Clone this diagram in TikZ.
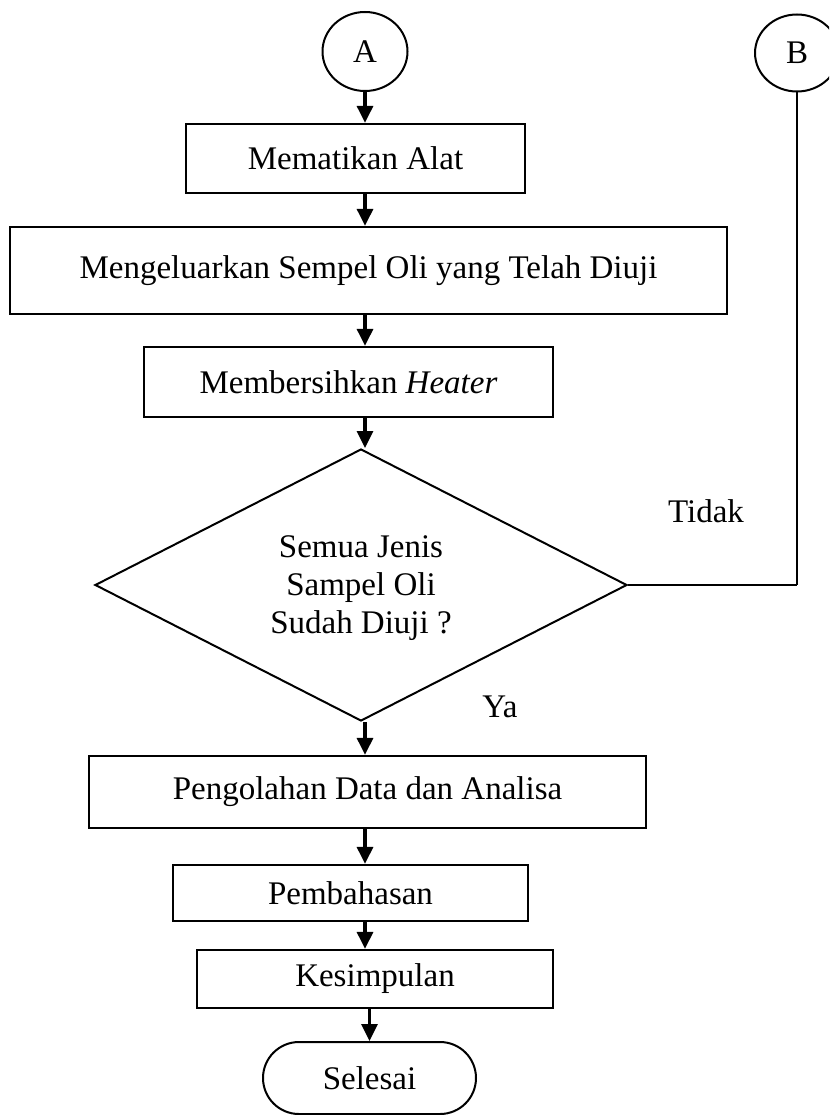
\documentclass[tikz,border=0pt]{standalone}
\usepackage{fontspec}
\setmainfont{Liberation Serif}
\usetikzlibrary{arrows.meta,shapes.geometric,shapes.misc}
\newcommand\myfs{\fontsize{33}{38}\selectfont}
\begin{document}
\begin{tikzpicture}[x=1pt,y=-1pt,
  box/.style={draw, line width=2.3pt, inner sep=0pt, font=\myfs},
  conn/.style={draw, line width=2pt, inner sep=0pt, font=\myfs},
  arr/.style={line width=3.2pt, -{Triangle[length=17pt,width=16pt]}},
  link/.style={line width=1.3pt},
  linkv/.style={line width=2.3pt},
  lbl/.style={inner sep=0pt, font=\myfs}]
\useasboundingbox (0,0) rectangle (829,1115);
\clip (0,0) rectangle (829,1115);
% connectors (circles)
\node[conn, ellipse, minimum width=85pt, minimum height=79pt] (A) at (365,51.5) {A};
\node[conn, ellipse, minimum width=84pt, minimum height=77pt] (B) at (797,53) {B};
% process boxes
\node[box, minimum width=339pt, minimum height=69pt] (mat) at (355.5,158.5) {Mematikan Alat};
\node[box, minimum width=717pt, minimum height=87pt] (meng) at (368.5,270.5) {Mengeluarkan Sempel Oli yang Telah Diuji};
\node[box, minimum width=409pt, minimum height=70pt] (memb) at (348.5,382) {Membersihkan \textit{Heater}};
% decision
\node[draw, line width=2pt, diamond, aspect=1.956, minimum width=532pt, minimum height=272pt, inner sep=0pt] (dec) at (361,585) {};
\node[lbl, align=center] (dectext) at (361,588) {Semua Jenis\\Sampel Oli\\Sudah Diuji ?};
% lower boxes
\node[box, minimum width=557pt, minimum height=72pt] (peng) at (367.5,792) {Pengolahan Data dan Analisa};
\node[box, minimum width=355pt, minimum height=56pt] (pem) at (350.5,893) {Pembahasan};
\node[box, minimum width=356pt, minimum height=58pt] (kes) at (375,979) {Kesimpulan};
\node[draw, line width=2pt, rounded rectangle, minimum width=213pt, minimum height=72pt, inner sep=0pt, font=\myfs] (sel) at (369.5,1078) {Selesai};
% labels
\node[lbl] (tidak) at (706,511) {Tidak};
\node[lbl] (ya) at (500,707) {Ya};
% arrows
\draw[arr] (A.south) -- (A.south |- mat.north);
\draw[arr] (A |- mat.south) -- (A |- meng.north);
\draw[arr] (A |- meng.south) -- (A |- memb.north);
\draw[arr] (A |- memb.south) -- (A |- dec.north);
\draw[arr] (A |- dec.south) -- (A |- peng.north);
\draw[arr] (A |- peng.south) -- (A |- pem.north);
\draw[arr] (A |- pem.south) -- (A |- kes.north);
\draw[arr] (sel.north |- kes.south) -- (sel.north);
% return line to B
\coordinate (corner) at (B.south |- dec.east);
\draw[link] (dec.east) -- (corner);
\draw[linkv] (corner) -- (B.south);
\end{tikzpicture}
\end{document}
